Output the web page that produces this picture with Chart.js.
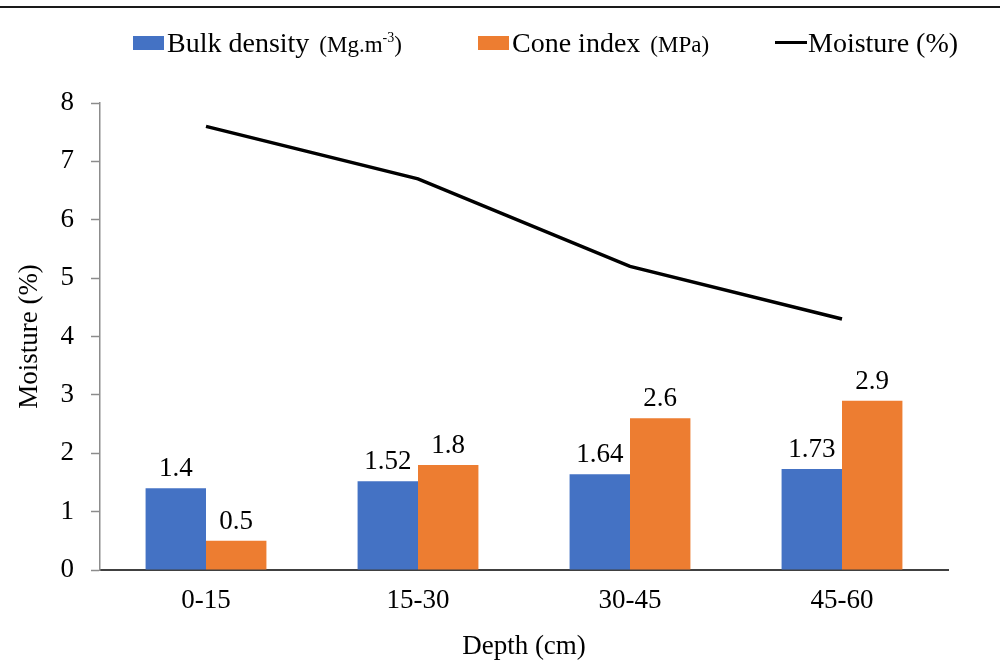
<!DOCTYPE html>
<html>
<head>
<meta charset="utf-8">
<title>Soil properties by depth</title>
<script src="https://cdn.jsdelivr.net/npm/chart.js@4/dist/chart.umd.min.js"></script>
<style>
  html, body { margin: 0; padding: 0; background: #fff; }
  #wrap { position: relative; width: 1000px; height: 660px; overflow: hidden; }
  #topRule { position: absolute; left: 0; top: 6px; width: 1000px; height: 2px; background: #1a1a1a; }
  #legend { position: absolute; left: 0; top: 0; width: 1000px; height: 70px;
            font-family: 'Liberation Serif', 'Times New Roman', serif; color: #000; }
  .item { position: absolute; top: 28px; height: 30px; line-height: 30px; white-space: nowrap; font-size: 28px; }
  .swatch { display: inline-block; width: 31px; height: 14px; vertical-align: middle; margin-right: 3px; position: relative; top: -3px; }
  .dash { display: inline-block; width: 32px; height: 3px; background: #000; vertical-align: middle; margin-right: 1px; position: relative; top: -3px; }
  .unit { font-size: 23px; margin-left: 10px; }
  .unit sup { font-size: 14px; vertical-align: 10px; line-height: 0; }
  canvas { position: absolute; left: 0; top: 0; }
</style>
</head>
<body>
<div id="wrap">
  <canvas id="chart" width="1000" height="660"></canvas>
  <div id="topRule"></div>
  <div id="legend">
    <div class="item" style="left:133px"><span class="swatch" style="background:#4472C4"></span>Bulk density<span class="unit">(Mg.m<sup>-3</sup>)</span></div>
    <div class="item" style="left:478px"><span class="swatch" style="background:#ED7D31"></span>Cone index<span class="unit">(MPa)</span></div>
    <div class="item" style="left:775px"><span class="dash"></span>Moisture (%)</div>
  </div>
</div>
<script>
// Soil depth intervals (cm)
const depths = ['0-15', '15-30', '30-45', '45-60'];
// Bulk density (Mg.m-3)
const bulkDensity = [1.4, 1.52, 1.64, 1.73];
// Cone index (MPa)
const coneIndex = [0.5, 1.8, 2.6, 2.9];
// Soil moisture (%)
const moisture = [7.6, 6.7, 5.2, 4.3];
// Y axis ticks
const yTicks = [0, 1, 2, 3, 4, 5, 6, 7, 8];

const SERIF = "'Liberation Serif', 'Times New Roman', serif";
const BLUE = '#4472C4';
const ORANGE = '#ED7D31';

// Writes each bar's value just above it
const barValueLabels = {
  id: 'barValueLabels',
  afterDatasetsDraw(chart) {
    const ctx = chart.ctx;
    ctx.save();
    ctx.font = '27px ' + SERIF;
    ctx.fillStyle = '#000';
    ctx.textAlign = 'center';
    ctx.textBaseline = 'alphabetic';
    chart.data.datasets.forEach((ds, di) => {
      if (ds.type === 'line') return;
      const meta = chart.getDatasetMeta(di);
      meta.data.forEach((bar, i) => {
        ctx.fillText(String(ds.data[i]), bar.x, bar.y - 12);
      });
    });
    ctx.restore();
  }
};

new Chart(document.getElementById('chart'), {
  type: 'bar',
  data: {
    labels: depths,
    datasets: [
      {
        type: 'line',
        label: 'Moisture (%)',
        data: moisture,
        borderColor: '#000',
        borderWidth: 3.5,
        pointRadius: 0,
        tension: 0,
        fill: false,
        order: 0
      },
      {
        label: 'Bulk density',
        data: bulkDensity,
        backgroundColor: BLUE,
        barPercentage: 1,
        categoryPercentage: 0.57,
        order: 1
      },
      {
        label: 'Cone index',
        data: coneIndex,
        backgroundColor: ORANGE,
        barPercentage: 1,
        categoryPercentage: 0.57,
        order: 1
      }
    ]
  },
  options: {
    responsive: false,
    devicePixelRatio: 1,
    animation: false,
    layout: { padding: { top: 103, right: 52, left: 0, bottom: 0 } },
    plugins: {
      legend: { display: false },
      tooltip: { enabled: false }
    },
    scales: {
      x: {
        afterFit(scale) { scale.height = 90; },
        grid: { display: true, drawOnChartArea: false, drawTicks: false },
        border: { display: true, color: '#404040', width: 2 },
        ticks: { color: '#000', font: { family: SERIF, size: 27 }, padding: 15 },
        title: {
          display: true,
          text: 'Depth (cm)',
          color: '#000',
          font: { family: SERIF, size: 27, lineHeight: 1 },
          padding: { top: 0, bottom: 0 }
        }
      },
      y: {
        min: 0,
        max: 8,
        afterFit(scale) { scale.width = 100; },
        afterBuildTicks(scale) { scale.ticks = yTicks.map(v => ({ value: v })); },
        grid: { display: true, drawOnChartArea: false, drawTicks: true, tickLength: 9, tickColor: '#8c8c8c', tickWidth: 1.5 },
        border: { display: true, color: '#8c8c8c', width: 1.5 },
        ticks: { color: '#000', font: { family: SERIF, size: 27 }, padding: 17 },
        title: {
          display: true,
          text: 'Moisture (%)',
          color: '#000',
          font: { family: SERIF, size: 27, lineHeight: 1.2 },
          padding: { top: 14, bottom: 0 }
        }
      }
    }
  },
  plugins: [barValueLabels]
});
</script>
</body>
</html>
